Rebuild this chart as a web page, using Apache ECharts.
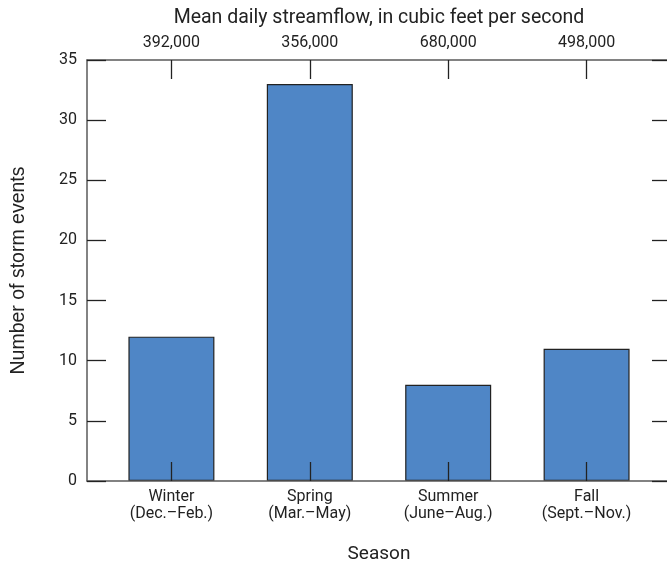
<!DOCTYPE html>
<html>
<head>
<meta charset="utf-8">
<script src="https://cdn.jsdelivr.net/npm/echarts@6/dist/echarts.min.js"></script>
<style>html,body{margin:0;padding:0;background:#fff}#c{width:667px;height:567px}</style>
</head>
<body>
<div id="c"></div>
<script>
const seasons = ['Winter', 'Spring', 'Summer', 'Fall'];
const months = ['(Dec.\u2013Feb.)', '(Mar.\u2013May)', '(June\u2013Aug.)', '(Sept.\u2013Nov.)'];
const stormEvents = [12, 33, 8, 11];
const streamflow = ['392,000', '356,000', '680,000', '498,000'];
const yTicks = [0, 5, 10, 15, 20, 25, 30, 35];

const FONT = 'Roboto, "Liberation Sans", sans-serif';
const positions = seasons.map((_, i) => i);
const chart = echarts.init(document.getElementById('c'), null, {renderer: 'canvas'});
const lineStyle = {color: '#5a5a5a', width: 1.5};
const tickStyle = {color: '#222', width: 1.3};

chart.setOption({
  animation: false,
  backgroundColor: '#fff',
  grid: {left: 87, right: -4, top: 60, bottom: 86, containLabel: false, outerBoundsMode: 'none'},
  xAxis: [{
    type: 'value', position: 'bottom', min: -0.61, max: 3.61, z: 5,
    axisLine: {show: true, onZero: false, lineStyle: lineStyle},
    axisTick: {show: true, inside: true, length: 19, lineStyle: tickStyle, customValues: positions},
    axisLabel: {show: true, customValues: positions, margin: 7, fontFamily: FONT, fontSize: 16, color: '#222', lineHeight: 17,
      formatter: v => seasons[Math.round(v)] + '\n' + months[Math.round(v)]},
    splitLine: {show: false},
    name: 'Season', nameLocation: 'middle', nameGap: 64,
    nameTextStyle: {fontFamily: FONT, fontSize: 19, color: '#222'}
  }, {
    type: 'value', position: 'top', min: -0.61, max: 3.61, z: 5,
    axisLine: {show: true, onZero: false, lineStyle: lineStyle},
    axisTick: {show: true, inside: true, length: 19, lineStyle: tickStyle, customValues: positions},
    axisLabel: {show: true, customValues: positions, margin: 9, fontFamily: FONT, fontSize: 16, color: '#222',
      formatter: v => streamflow[Math.round(v)]},
    splitLine: {show: false},
    name: 'Mean daily streamflow, in cubic feet per second', nameLocation: 'middle', nameGap: 32,
    nameTextStyle: {fontFamily: FONT, fontSize: 19.5, color: '#222'}
  }],
  yAxis: [{
    type: 'value', position: 'left', min: 0, max: 35, interval: 5, z: 5,
    axisLine: {show: true, onZero: false, lineStyle: lineStyle},
    axisTick: {show: true, inside: true, length: 19, lineStyle: tickStyle},
    axisLabel: {show: true, margin: 10, fontFamily: FONT, fontSize: 16, color: '#222',
      formatter: v => yTicks.includes(v) ? String(v) : ''},
    splitLine: {show: false},
    name: 'Number of storm events', nameLocation: 'middle', nameGap: 58,
    nameTextStyle: {fontFamily: '"Liberation Sans", Arial, sans-serif', fontSize: 19.5, color: '#222'}
  }, {
    type: 'value', position: 'right', min: 0, max: 35, interval: 5, z: 5,
    axisLine: {show: true, onZero: false, lineStyle: lineStyle},
    axisTick: {show: true, inside: true, length: 19, lineStyle: tickStyle},
    axisLabel: {show: false},
    splitLine: {show: false}
  }],
  series: [{
    type: 'bar', xAxisIndex: 0, yAxisIndex: 0, barWidth: 86,
    data: stormEvents.map((v, i) => [positions[i], v]),
    itemStyle: {color: '#4f86c6', borderColor: '#222', borderWidth: 1.2},
    z: 2
  }]
});
</script>
</body>
</html>
